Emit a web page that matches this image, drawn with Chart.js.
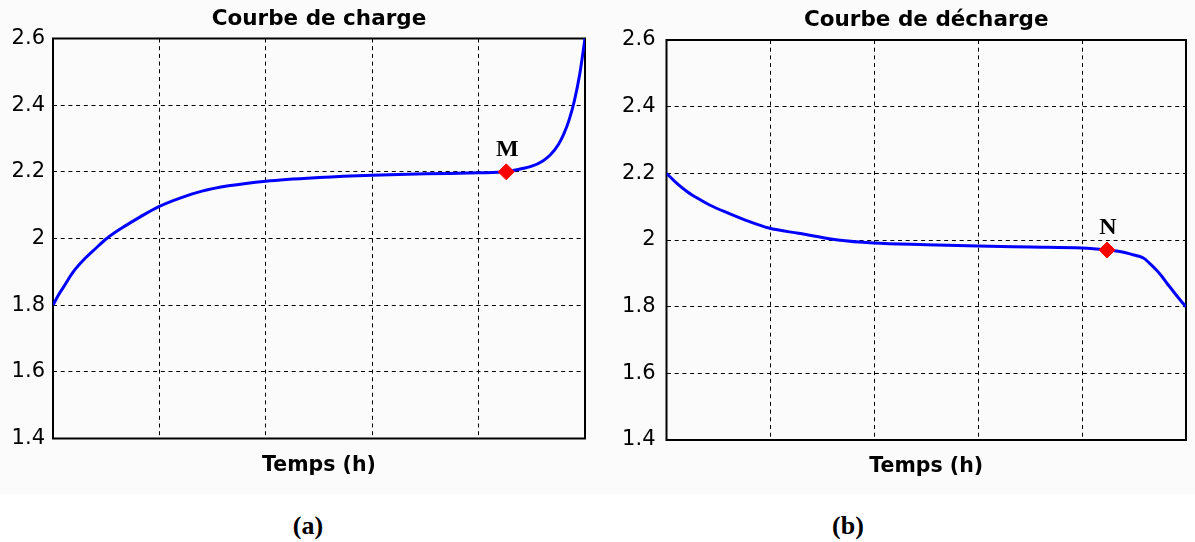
<!DOCTYPE html>
<html>
<head>
<meta charset="utf-8">
<title>Courbes de charge et de décharge</title>
<script src="https://cdn.jsdelivr.net/npm/chart.js@4.4.1/dist/chart.umd.min.js"></script>
<style>
  html, body { margin: 0; padding: 0; background: #fff; }
  #fig { position: relative; width: 1195px; height: 542px; overflow: hidden; }
  #panelBg { position: absolute; left: 0; top: 0; width: 1195px; height: 494px; background: #fbfbfb; }
  canvas { position: absolute; top: 0; }
  #chargeChart { left: 0; }
  #dischargeChart { left: 600px; }
  .cap { position: absolute; top: 511px; width: 100px; text-align: center;
         font: bold 26px "Liberation Serif", "Times New Roman", serif; line-height: 30px; color: #000; }
</style>
</head>
<body>
<div id="fig">
  <div id="panelBg"></div>
  <canvas id="chargeChart" width="600" height="494"></canvas>
  <canvas id="dischargeChart" width="595" height="494"></canvas>
  <div class="cap" style="left:258px">(a)</div>
  <div class="cap" style="left:798px">(b)</div>
</div>
<script>
// Time is expressed as a percentage of the cycle; voltage in volts.
const chargeTime = [0, 1, 2, 3.8, 6, 8, 10.1, 13, 16.4, 19.8, 24, 28, 33, 40, 50, 60, 70, 80, 85.2,
                    86.5, 88, 90, 92, 93.5, 95, 96, 97, 98, 99, 100];
const chargeVolt = [1.80, 1.83, 1.855, 1.90, 1.94, 1.97, 2.0, 2.032, 2.065, 2.095, 2.122, 2.142, 2.158,
                    2.172, 2.183, 2.19, 2.194, 2.197, 2.20,
                    2.204, 2.209, 2.217, 2.232, 2.251, 2.282, 2.313, 2.355, 2.413, 2.492, 2.6];

const dischargeTime = [0, 2, 4, 6, 8.3, 12, 16, 19.7, 25.4, 33, 39.8, 50, 60, 70, 80, 84.8,
                       87.5, 89.5, 91.8, 93, 94.3, 95.3, 96.2, 97.2, 98.1, 99, 100];
const dischargeVolt = [2.2, 2.17, 2.145, 2.125, 2.105, 2.08, 2.055, 2.036, 2.02, 2.0, 1.991, 1.986,
                       1.982, 1.979, 1.976, 1.97, 1.965, 1.957, 1.946, 1.93, 1.91, 1.892, 1.873,
                       1.853, 1.835, 1.818, 1.8];

// Transition points
const chargeMarkTime = [85.2];
const chargeMarkVolt = [2.2];
const chargeMarkLabel = ['M'];
const dischargeMarkTime = [84.8];
const dischargeMarkVolt = [1.97];
const dischargeMarkLabel = ['N'];

// Axes
const yTickValues = [1.4, 1.6, 1.8, 2.0, 2.2, 2.4, 2.6];
const yTickLabels = ['1.4', '1.6', '1.8', '2', '2.2', '2.4', '2.6'];
const xGridValues = [0, 20, 40, 60, 80, 100];

const toPoints = (xs, ys) => xs.map((x, i) => ({ x: x, y: ys[i] }));

// Solid frame around the plotting area
const framePlugin = {
  id: 'frame',
  beforeDatasetsDraw(chart) {
    const a = chart.chartArea, ctx = chart.ctx;
    ctx.save();
    ctx.strokeStyle = '#000';
    ctx.lineWidth = 2;
    ctx.strokeRect(a.left, a.top, a.right - a.left, a.bottom - a.top);
    ctx.restore();
  }
};

// Letter above each transition point
const markLabelPlugin = {
  id: 'markLabel',
  afterDatasetsDraw(chart) {
    const labels = chart.options.plugins.markLabel.labels;
    const meta = chart.getDatasetMeta(0);
    const ctx = chart.ctx;
    ctx.save();
    ctx.font = 'bold 24px "Liberation Serif", "Times New Roman", serif';
    ctx.fillStyle = '#000';
    ctx.textAlign = 'center';
    ctx.textBaseline = 'middle';
    meta.data.forEach((pt, i) => ctx.fillText(labels[i], pt.x + 1, pt.y - 22));
    ctx.restore();
  }
};

function makeChart(id, g) {
  const dash = [4, 3.7];
  return new Chart(document.getElementById(id), {
    type: 'line',
    data: {
      datasets: [
        {
          data: toPoints(g.markTime, g.markVolt),
          showLine: false,
          pointStyle: 'rectRot',
          pointRadius: 8,
          backgroundColor: '#ff0000',
          borderColor: '#ff0000',
          borderWidth: 1,
          order: 0
        },
        {
          data: toPoints(g.time, g.volt),
          borderColor: '#0000ff',
          borderWidth: 3,
          pointRadius: 0,
          cubicInterpolationMode: 'monotone',
          fill: false,
          order: 1
        }
      ]
    },
    options: {
      responsive: false,
      animation: false,
      events: [],
      layout: { padding: { left: 0, right: g.padRight, top: 0, bottom: 0 } },
      scales: {
        x: {
          type: 'linear', min: 0, max: 100,
          afterBuildTicks: s => { s.ticks = xGridValues.map(v => ({ value: v })); },
          ticks: { display: false },
          grid: { color: '#000', lineWidth: 1, drawTicks: false },
          border: { display: false, dash: dash },
          title: {
            display: true, text: 'Temps (h)', color: '#000',
            font: { family: 'DejaVu Sans', size: 20.5, weight: 'bold' },
            padding: { top: 0, bottom: g.xTitleBottom }
          },
          afterFit: s => { s.height = g.xAxisHeight; }
        },
        y: {
          type: 'linear', min: 1.4, max: 2.6,
          afterBuildTicks: s => { s.ticks = yTickValues.map(v => ({ value: v })); },
          ticks: {
            autoSkip: false,
            color: '#000',
            padding: g.tickPad,
            font: { family: 'DejaVu Sans', size: 21 },
            callback: (v, i) => yTickLabels[i]
          },
          grid: { color: '#000', lineWidth: 1, drawTicks: false },
          border: { display: false, dash: dash },
          afterFit: s => { s.width = g.yAxisWidth; }
        }
      },
      plugins: {
        legend: { display: false },
        tooltip: { enabled: false },
        title: {
          display: true, text: g.title, color: '#000', fullSize: false,
          font: { family: 'DejaVu Sans', size: 21.5, weight: 'bold' },
          padding: { top: g.titleTop, bottom: g.titleBottom }
        },
        markLabel: { labels: g.markLabel }
      }
    },
    plugins: [framePlugin, markLabelPlugin]
  });
}

makeChart('chargeChart', {
  title: 'Courbe de charge',
  time: chargeTime, volt: chargeVolt,
  markTime: chargeMarkTime, markVolt: chargeMarkVolt, markLabel: chargeMarkLabel,
  padRight: 15, yAxisWidth: 53, xAxisHeight: 55.5, tickPad: 8,
  titleTop: 6.6, titleBottom: 6.1, xTitleBottom: 15.7
});

makeChart('dischargeChart', {
  title: 'Courbe de décharge',
  time: dischargeTime, volt: dischargeVolt,
  markTime: dischargeMarkTime, markVolt: dischargeMarkVolt, markLabel: dischargeMarkLabel,
  padRight: 2, yAxisWidth: 66.5, xAxisHeight: 54, tickPad: 11,
  titleTop: 7.6, titleBottom: 6.6, xTitleBottom: 14.7
});
</script>
</body>
</html>
